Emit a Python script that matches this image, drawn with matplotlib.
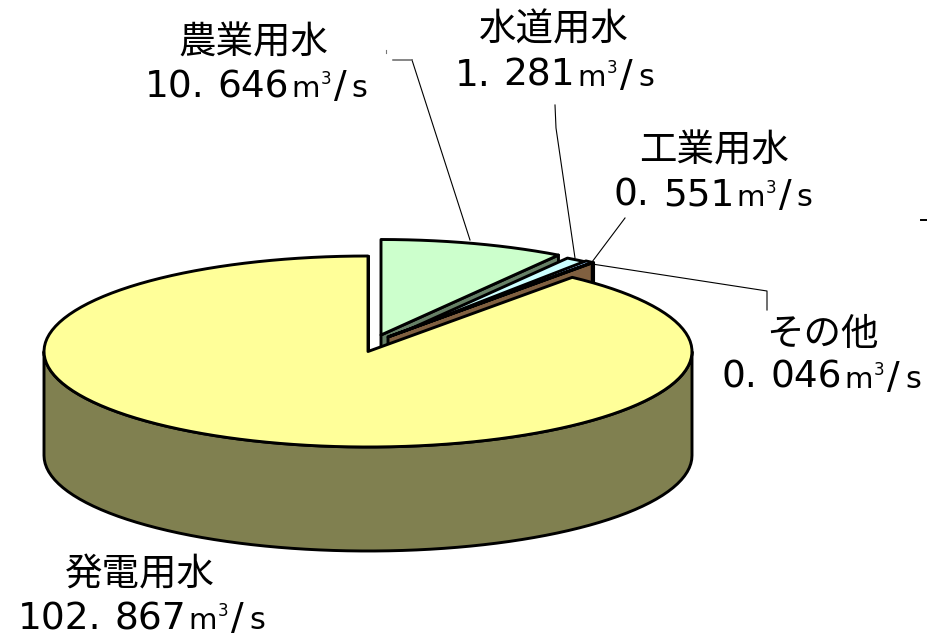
import numpy as np
import matplotlib
matplotlib.use("Agg")
import matplotlib.pyplot as plt

plt.rcParams['font.family'] = ['Noto Sans CJK JP', 'DejaVu Sans']

names = ['農業用水', '水道用水', '工業用水', 'その他', '発電用水']
values = [10.646, 1.281, 0.551, 0.046, 102.867]

top_colors = ['#CCFFCC', '#CCFFFF', '#99CCFF', '#FFCC99', '#FFFF99']
wall_colors = ['#668066', '#668080', '#4D6680', '#806040', '#808050']

# exploded slice centres in pixels
centers = [(381, 335), (390, 338), (390, 337), (388, 337), (368, 351.5)]
rx = 324
ry = 95.5
depth = 104
edge = 2.1

fig = plt.figure(figsize=(9.27, 6.33), dpi=100)
ax = fig.add_axes([0, 0, 1, 1])
ax.set_xlim(0, 927)
ax.set_ylim(633, 0)
ax.axis('off')


def rim(center, a0, a1):
    # angles are clockwise from 12 o'clock, degrees
    n = max(2, int((a1 - a0) / 2.5) + 2)
    t = np.radians(np.linspace(a0, a1, n))
    return center[0] + rx * np.sin(t), center[1] - ry * np.cos(t)


def draw_slice(center, a0, a1, top, wall):
    x, y = rim(center, a0, a1)
    # cut side at the end angle
    ax.fill([center[0], x[-1], x[-1], center[0]],
            [center[1], y[-1], y[-1] + depth, center[1] + depth],
            facecolor=wall, edgecolor='black', linewidth=edge, joinstyle='round')
    # curved wall on the front half only
    if a1 > 90:
        wx, wy = rim(center, max(a0, 90), min(a1, 270))
        ax.fill(np.r_[wx, wx[::-1]], np.r_[wy, wy[::-1] + depth],
                facecolor=wall, edgecolor='black', linewidth=edge, joinstyle='round')
    ax.fill(np.r_[center[0], x], np.r_[center[1], y],
            facecolor=top, edgecolor='black', linewidth=edge, joinstyle='round')


angles = np.cumsum([0] + values) / sum(values) * 360
for i in range(len(values)):
    draw_slice(centers[i], angles[i], angles[i + 1], top_colors[i], wall_colors[i])

# leader lines
leaders = [
    ([412, 470], [60, 240]),
    ([555, 556, 575], [105, 128, 258]),
    ([625, 592], [218, 262]),
    ([592, 767, 767], [264, 291, 310]),
]
for lx, ly in leaders:
    ax.plot(lx, ly, color='black', linewidth=0.8)
ax.plot([393, 412], [60, 60], color='#666666', linewidth=1.1)

# stray marks in the source
ax.plot([386.5, 386.5], [50, 53], color='#777777', linewidth=0.8)
ax.plot([921, 927], [220, 220], color='black', linewidth=1.4)


def value_label(x, baseline, value):
    head, tail = f"{value:.3f}".split('.')
    parts = [(head + '.', 27, 0, 13), (tail, 27, 0, 2), ('m', 21, 0, 1),
             ('3', 12, -13, 3), ('/', 27, 0, 5), ('s', 22, 0, 0)]
    renderer = fig.canvas.get_renderer()
    for s, size, dy, gap in parts:
        t = ax.text(x, baseline + dy, s, fontsize=size, family='DejaVu Sans',
                    ha='left', va='baseline', color='black')
        x = t.get_window_extent(renderer).x1 + gap


name_pos = [(253.5, 43), (554, 30), (714, 151), (822, 334), (140, 575)]
value_pos = [(145, 97), (455, 86), (614, 206), (722, 388), (18, 629)]
for i in range(len(values)):
    ax.text(name_pos[i][0], name_pos[i][1], names[i], fontsize=27, ha='center',
            va='center', color='black')
    value_label(value_pos[i][0], value_pos[i][1], values[i])

plt.savefig('out.png', dpi=100)
